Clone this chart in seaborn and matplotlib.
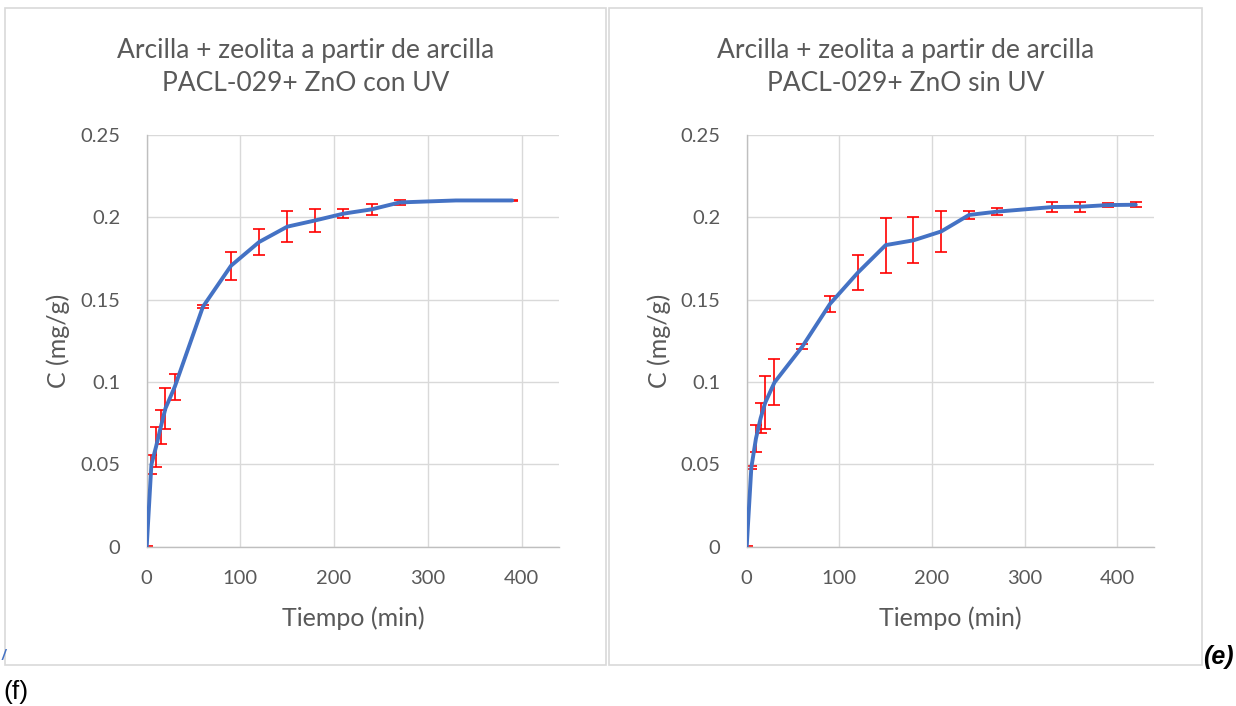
import matplotlib
matplotlib.use("Agg")
import matplotlib.pyplot as plt
import seaborn as sns
import pandas as pd
from matplotlib.patches import Rectangle
from matplotlib.ticker import FuncFormatter

# tiempo (min) y concentracion (mg/g), con UV
t_con = [0, 5, 10, 15, 20, 30, 60, 90, 120, 150, 180, 210, 240, 270, 330, 360, 390]
c_con = [0, 0.0498, 0.0607, 0.0726, 0.0839, 0.0971, 0.1456, 0.1705, 0.1849,
         0.1942, 0.198, 0.2021, 0.2047, 0.2089, 0.2101, 0.2101, 0.2101]
e_con = [0.0005, 0.0059, 0.0121, 0.0104, 0.0125, 0.0078, 0.0008, 0.0086, 0.0081,
         0.0092, 0.0072, 0.0027, 0.0032, 0.0015, 0.0005, 0.0005, 0.0005]

# sin UV
t_sin = [0, 5, 10, 15, 20, 30, 60, 90, 120, 150, 180, 210, 240, 270, 330, 360, 390, 420]
c_sin = [0, 0.048, 0.0657, 0.0779, 0.0874, 0.0997, 0.1214, 0.1474, 0.1663,
         0.183, 0.1859, 0.1913, 0.2013, 0.2033, 0.2061, 0.2063, 0.2073, 0.2075]
e_sin = [0.0005, 0.001, 0.0081, 0.0091, 0.0159, 0.0140, 0.0014, 0.0048, 0.0104,
         0.0167, 0.014, 0.0127, 0.0024, 0.0023, 0.0033, 0.003, 0.0014, 0.0016]

titles = ["Arcilla + zeolita a partir de arcilla\nPACL-029+ ZnO con UV",
          "Arcilla + zeolita a partir de arcilla\nPACL-029+ ZnO sin UV"]
y_ticks = [0, 0.05, 0.1, 0.15, 0.2, 0.25]
x_ticks = [0, 100, 200, 300, 400]

sns.set_theme(style="whitegrid")
plt.rcParams['font.family'] = ['Lato', 'DejaVu Sans']

W, H = 1236, 706
fig = plt.figure(figsize=(W / 100, H / 100), dpi=100)
fig.patch.set_facecolor("white")

grey_txt = "#595959"
grid_c = "#d9d9d9"

def px(x0, y0, x1, y1):
    # pixel box (top-left origin) -> figure fraction rect
    return [x0 / W, 1 - y1 / H, (x1 - x0) / W, (y1 - y0) / H]

# chart frames
for (bx0, bx1) in [(5, 606), (609, 1202)]:
    fig.patches.append(Rectangle((bx0 / W, 1 - 665 / H), (bx1 - bx0) / W, (665 - 8) / H,
                                 transform=fig.transFigure, fill=False,
                                 edgecolor=grid_c, linewidth=1.2))

axes_px = [(146.7, 134.7, 559, 546.7), (746.7, 134.7, 1154.3, 546.7)]
box_centers = [305.5, 905.5]
datasets = [(t_con, c_con, e_con), (t_sin, c_sin, e_sin)]

for i, (t, c, e) in enumerate(datasets):
    ax = fig.add_axes(px(*axes_px[i]))
    ax.set_facecolor("white")
    df = pd.DataFrame({"Tiempo": t, "C": c})
    ax.errorbar(t, c, yerr=e, fmt="none", ecolor="#ff0000", elinewidth=1.2,
                capsize=4.3, capthick=1.2, zorder=2)
    sns.lineplot(data=df, x="Tiempo", y="C", ax=ax, color="#4472C4",
                 linewidth=2.8, zorder=3)
    ax.set_xlim(0, 440)
    ax.set_ylim(0, 0.25)
    ax.set_xticks(x_ticks)
    ax.set_yticks(y_ticks)
    ax.yaxis.set_major_formatter(FuncFormatter(lambda v, p: f"{v:g}"))
    ax.grid(True, color=grid_c, linewidth=1.0)
    for s in ["top", "right"]:
        ax.spines[s].set_visible(False)
    for s in ["left", "bottom"]:
        ax.spines[s].set_color("#bfbfbf")
        ax.spines[s].set_linewidth(1.0)
    ax.tick_params(axis="both", length=0, labelsize=14.5, colors=grey_txt)
    ax.tick_params(axis="y", pad=19)
    ax.tick_params(axis="x", pad=17)
    ax.set_xlabel("Tiempo (min)", fontsize=18, color=grey_txt)
    ax.set_ylabel("C (mg/g)", fontsize=18, color=grey_txt)
    ax.xaxis.set_label_coords(0.5, -0.144)
    ax.yaxis.set_label_coords(-0.186, 0.5)

    fig.text(box_centers[i] / W, 1 - 67 / H, titles[i], ha="center", va="center",
             fontsize=19, color=grey_txt, linespacing=1.4)

fig.text(1234 / W, 1 - 657 / H, "(e)", fontsize=18, fontweight="bold",
         fontstyle="italic", family=["Liberation Sans", "DejaVu Sans"],
         ha="right", va="center", color="black")
fig.text(3 / W, 1 - 692 / H, "(f)", fontsize=19,
         family=["Liberation Sans", "DejaVu Sans"],
         ha="left", va="center", color="black")
fig.text(2 / W, 1 - 656 / H, "/", fontsize=10, fontweight="bold",
         fontstyle="italic", family=["Liberation Sans", "DejaVu Sans"],
         ha="left", va="center", color="#4472C4")

fig.savefig("out.png", dpi=100, facecolor="white")
